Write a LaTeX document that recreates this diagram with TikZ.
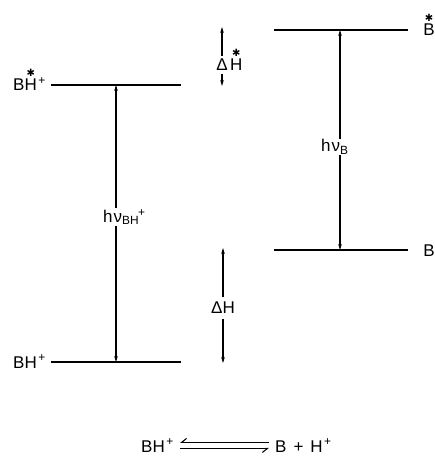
\documentclass[tikz,border=0pt]{standalone}
\usepackage{fontspec}
\setmainfont{Liberation Sans}
\newfontfamily\symfont{DejaVu Sans}
\usetikzlibrary{arrows.meta}
\newcommand{\exstar}[1]{\shortstack{{\symfont\fontsize{10}{10}\selectfont ✱}\\[0pt]#1}}
\newcommand{\ionplus}{\kern1.5pt\textsuperscript{+}}

\begin{document}
\begin{tikzpicture}[x=1pt, y=-1pt, >={Stealth[length=6pt,width=3.6pt]},
    font=\fontsize{17}{19}\selectfont]
    \useasboundingbox (0,0) rectangle (434,457);

    \draw[line width=1.5pt] (51,85) coordinate (bhxl) -- (181,85) coordinate (bhxr);
    \draw[line width=1.5pt] (51,362) coordinate (bhl) -- (181,362) coordinate (bhr);
    \draw[line width=1.5pt] (274,30) coordinate (bxl) -- (408,30) coordinate (bxr);
    \draw[line width=1.5pt] (274,250) coordinate (bl) -- (408,250) coordinate (br);

    \node[anchor=base east, inner sep=0pt] (bhxlab) at (46,91) {B\exstar{H}\ionplus};
    \node[anchor=base east, inner sep=0pt] (bhlab) at (46,368) {BH\ionplus};
    \node[anchor=base, inner sep=0pt] (bxlab) at (429,36) {\exstar{B}};
    \node[anchor=base, inner sep=0pt] (blab) at (429,256) {B};

    \draw[<->, line width=1.1pt] (116,85) -- (116,362);
    \node[anchor=west, fill=white, inner sep=1pt] (hvbh) at (102,217)
        {h\kern1pt ν\textsubscript{BH}\kern-1pt\textsuperscript{+}};

    \draw[<->, line width=1.1pt] (340,30) -- (340,250);
    \node[anchor=west, fill=white, inner sep=1pt] (hvb) at (320,147)
        {h\kern1pt ν\textsubscript{B}};

    \node[inner sep=3pt] (dhx) at (222,65) {Δ};
    \node[anchor=base west, inner sep=0pt] (dhxh) at ([xshift=-1pt]dhx.base east) {\exstar{H}};
    \draw[->, line width=1.1pt] (dhx.north) -- (222,27);
    \draw[->, line width=1.1pt] (dhx.south) -- (222,86);

    \node[inner sep=5pt] (dh) at (223,308) {ΔH};
    \draw[->, line width=1.1pt] (dh.north) -- (223,248);
    \draw[->, line width=1.1pt] (dh.south) -- (223,363);

    \node[anchor=base east, inner sep=2pt] (eql) at (176,452) {BH\ionplus};
    \node[anchor=base west, inner sep=2pt] (eqr) at (273,452)
        {B\hspace{7pt}+\hspace{7pt}H\ionplus};
    \draw[-{Straight Barb[right,length=5pt,width=8pt]}, line width=1.1pt]
        ([yshift=3pt,xshift=-4pt]eqr.west) -- ([yshift=3pt,xshift=4pt]eql.east);
    \draw[-{Straight Barb[right,length=5pt,width=8pt]}, line width=1.1pt]
        ([yshift=-3pt,xshift=4pt]eql.east) -- ([yshift=-3pt,xshift=-4pt]eqr.west);
\end{tikzpicture}
\end{document}
